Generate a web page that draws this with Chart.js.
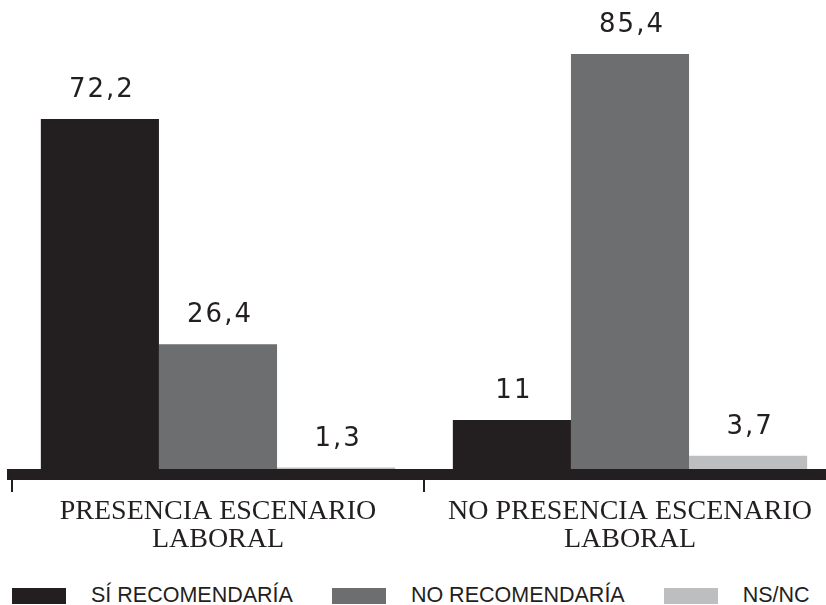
<!DOCTYPE html>
<html>
<head>
<meta charset="utf-8">
<script src="https://cdn.jsdelivr.net/npm/chart.js@4.4.1/dist/chart.umd.min.js"></script>
<style>
 html, body { margin: 0; padding: 0; background: #fff; overflow: hidden; }
 #wrap { position: relative; width: 826px; height: 605px; overflow: hidden; }
 #box { position: absolute; left: 0; top: 0; width: 840px; height: 562px; }
 .legend { position: absolute; left: 12px; top: 583px; display: flex; align-items: center;
   font-family: "Liberation Sans", Arial, sans-serif; font-size: 21.5px; color: #231f20; white-space: nowrap; }
 .legend .item { display: flex; align-items: center; margin-right: 39px; }
 .legend .sw { width: 54px; height: 16px; margin-right: 25px; }
</style>
</head>
<body>
<div id="wrap">
 <div id="box"><canvas id="myChart"></canvas></div>
 <div class="legend"></div>
</div>
<script>
'use strict';

var categories = [["PRESENCIA ESCENARIO", "LABORAL"], ["NO PRESENCIA ESCENARIO", "LABORAL"]];
var seriesNames = ["SÍ RECOMENDARÍA", "NO RECOMENDARÍA", "NS/NC"];
var siValues = [72.2, 11];
var noValues = [26.4, 85.4];
var nsncValues = [1.3, 3.7];
var colors = ["#231f20", "#6d6e70", "#bcbec0"];

var ink = "#231f20";

// value labels above each bar, decimal comma
var valueLabels = {
 id: "valueLabels",
 afterDatasetsDraw: function (chart) {
  var ctx = chart.ctx;
  ctx.save();
  ctx.font = "26px 'DejaVu Sans', sans-serif";
  ctx.fillStyle = ink;
  ctx.textAlign = "center";
  ctx.textBaseline = "alphabetic";
  ctx.letterSpacing = "2px";
  chart.data.datasets.forEach(function (ds, i) {
   chart.getDatasetMeta(i).data.forEach(function (bar, j) {
    var txt = String(ds.data[j]).replace(".", ",");
    ctx.fillText(txt, bar.x + 2, bar.y - 22);
   });
  });
  ctx.restore();
 }
};

var ctx = document.getElementById("myChart");
var myChart = new Chart(ctx, {
 type: "bar",
 data: {
  labels: categories,
  datasets: [
   { label: seriesNames[0], data: siValues, backgroundColor: colors[0] },
   { label: seriesNames[1], data: noValues, backgroundColor: colors[1] },
   { label: seriesNames[2], data: nsncValues, backgroundColor: colors[2] }
  ]
 },
 options: {
  responsive: true,
  maintainAspectRatio: false,
  animation: false,
  layout: { padding: { left: 12, right: 4, top: 2, bottom: 0 } },
  plugins: { legend: { display: false }, tooltip: { enabled: false } },
  datasets: { bar: { categoryPercentage: 0.86, barPercentage: 1.0 } },
  scales: {
   x: {
    grid: { drawOnChartArea: false, offset: true, color: ink, lineWidth: 2, tickLength: 18 },
    border: { display: true, color: ink, width: 11, z: 1 },
    ticks: {
     color: ink,
     padding: 6,
     font: { family: "'Liberation Serif', 'Times New Roman', serif", size: 28, lineHeight: 1.0 },
     maxRotation: 0,
     autoSkip: false
    },
    afterFit: function (scale) { scale.height = 88; }
   },
   y: { display: false, min: 0, max: 96 }
  }
 },
 plugins: [valueLabels]
});

var legend = document.querySelector(".legend");
seriesNames.forEach(function (name, i) {
 var item = document.createElement("div");
 item.setAttribute("class", "item");
 var sw = document.createElement("span");
 sw.setAttribute("class", "sw");
 sw.setAttribute("style", "background:" + colors[i]);
 var t = document.createElement("span");
 t.innerHTML = name;
 item.append(sw);
 item.append(t);
 legend.append(item);
});
</script>
</body>
</html>
